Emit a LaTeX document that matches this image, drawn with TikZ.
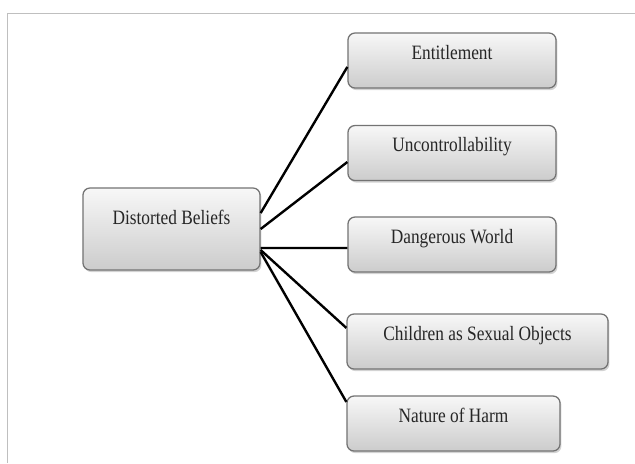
\documentclass[tikz,border=0pt]{standalone}
\usepackage{fontspec}
\setmainfont[FakeStretch=0.85]{Liberation Serif}
\usetikzlibrary{shadows}
\definecolor{boxtop}{gray}{0.97}
\definecolor{boxbot}{gray}{0.80}
\definecolor{boxedge}{gray}{0.45}
\definecolor{framegray}{gray}{0.75}
\definecolor{textgray}{gray}{0.15}

\begin{document}
\begin{tikzpicture}[x=0.025cm,y=-0.025cm,
    belief/.style={rectangle, rounded corners=5pt, draw=boxedge, line width=0.9pt,
        top color=boxtop, bottom color=boxbot, text=textgray,
        drop shadow={shadow xshift=1pt, shadow yshift=-1.5pt, opacity=0.35},
        minimum width=5.2cm, minimum height=1.375cm,
        font=\fontsize{14.5}{16}\selectfont, text height=0.35cm, text depth=0.42cm},
    link/.style={line width=1.7pt}]

        \useasboundingbox (0,0) rectangle (635,463);
        \draw[framegray, line width=0.7pt] (7.5,463) |- (635,13.5);

            \node[belief, minimum width=4.425cm, minimum height=2.05cm, text depth=0.6cm] (DB) at (171.5,229) {Distorted Beliefs};
            \node[belief] (EN) at (452,60.5) {Entitlement};
            \node[belief] (UC) at (452,153) {Uncontrollability};
            \node[belief] (DW) at (452,244.5) {Dangerous World};
            \node[belief, minimum width=6.525cm] (CS) at (477.5,341.5) {Children as Sexual Objects};
            \node[belief, minimum width=5.325cm] (NH) at (453.5,423.5) {Nature of Harm};

            \draw[link] ([yshift=0.4cm]DB.east) -- ([yshift=-0.16cm]EN.west);
            \draw[link] (DB.east) -- ([yshift=-0.225cm]UC.west);
            \draw[link] ([yshift=-0.475cm]DB.east) -- ([yshift=-0.0875cm]DW.west);
            \draw[link] ([yshift=-0.525cm]DB.east) -- ([yshift=0.34cm]CS.west);
            \draw[link] ([yshift=-0.575cm]DB.east) -- ([yshift=0.54cm]NH.west);
        \end{tikzpicture}
\end{document}
